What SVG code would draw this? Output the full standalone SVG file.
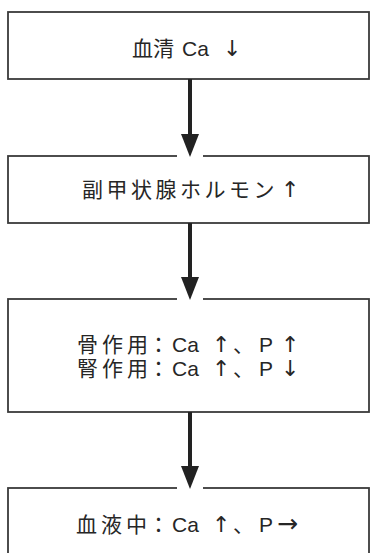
<svg xmlns="http://www.w3.org/2000/svg" width="370" height="553" viewBox="0 0 370 553">
<style>
.box{fill:#fff;stroke:#3a3a3a;stroke-width:1.8}
.t{font-family:"Liberation Sans","Noto Sans CJK JP",sans-serif;font-size:21px;fill:#262626}
.c{font-family:"Noto Sans CJK JP",sans-serif}
.l{font-family:"Liberation Sans",sans-serif}
.a{font-family:"DejaVu Sans",sans-serif;font-size:22px}
.ln{stroke:#222;stroke-width:4}
.hd{fill:#222}
.gap{fill:#fff}
</style>
<rect width="370" height="553" fill="#fff"/>
<g id="n1">
<rect class="box" x="8" y="12" width="361" height="67"/>
<text class="t" y="56"><tspan class="c" x="132">血清</tspan><tspan class="l" x="182">Ca</tspan><tspan class="a" x="223">↓</tspan></text>
</g>
<g id="n2">
<rect class="box" x="8" y="156" width="361" height="67"/>
<text class="t" y="197"><tspan class="c" x="82 106.5 131 155.5 180 204.5 229 253.5">副甲状腺ホルモン</tspan><tspan class="a" x="281">↑</tspan></text>
</g>
<g id="n3">
<rect class="box" x="8" y="299" width="361" height="113"/>
<text class="t" y="352"><tspan class="c" x="77 102 127">骨作用</tspan><tspan class="c" x="148">：</tspan><tspan class="l" x="172">Ca</tspan><tspan class="a" x="212">↑</tspan><tspan class="c" x="233">、</tspan><tspan class="l" x="259">P</tspan><tspan class="a" x="281">↑</tspan></text>
<text class="t" y="376"><tspan class="c" x="77 102 127">腎作用</tspan><tspan class="c" x="148">：</tspan><tspan class="l" x="172">Ca</tspan><tspan class="a" x="212">↑</tspan><tspan class="c" x="233">、</tspan><tspan class="l" x="259">P</tspan><tspan class="a" x="281">↓</tspan></text>
</g>
<g id="n4">
<rect class="box" x="8" y="488" width="361" height="80"/>
<text class="t" y="532"><tspan class="c" x="76 101 126">血液中</tspan><tspan class="c" x="148">：</tspan><tspan class="l" x="172">Ca</tspan><tspan class="a" x="212">↑</tspan><tspan class="c" x="233">、</tspan><tspan class="l" x="259">P</tspan><tspan class="a" x="277" style="font-size:25px">→</tspan></text>
</g>
<g id="connectors">
<line class="ln" x1="190" y1="79" x2="190" y2="137"/>
<rect class="gap" x="177" y="154.5" width="26" height="3"/>
<polygon class="hd" points="181,134 199,134 190,157"/>
<line class="ln" x1="190" y1="223" x2="190" y2="280"/>
<rect class="gap" x="177" y="297.5" width="26" height="3"/>
<polygon class="hd" points="181,277 199,277 190,300"/>
<line class="ln" x1="190" y1="412" x2="190" y2="469"/>
<rect class="gap" x="177" y="486.5" width="26" height="3"/>
<polygon class="hd" points="181,466 199,466 190,489"/>
</g>
</svg>
